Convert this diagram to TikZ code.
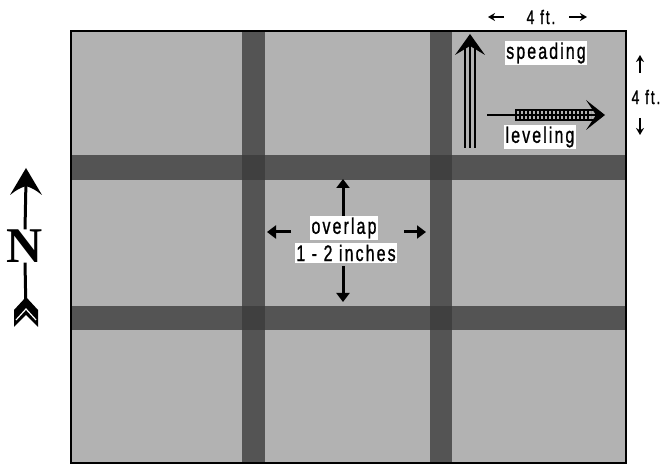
\documentclass[tikz,border=0pt]{standalone}
\usepackage{fontspec}
\setmainfont{Liberation Sans}
\newfontfamily\labfont[LetterSpace=13,FakeBold=1.2]{Liberation Sans}
\newfontfamily\nfont{Liberation Serif}
\usetikzlibrary{arrows.meta}
\definecolor{tile}{gray}{0.70}
\definecolor{seam}{gray}{0.33}
\definecolor{seamx}{gray}{0.25}
\begin{document}
\begin{tikzpicture}[x=1pt,y=-1pt,
  lab/.style={fill=white, inner sep=1.3pt, font=\labfont\fontsize{16}{16}\selectfont},
  dimlab/.style={inner sep=0pt, font=\labfont\fontsize{14}{14}\selectfont},
  sarrow/.style={line width=3pt, -{Triangle[length=9pt,width=13pt]}},
  dimarrow/.style={line width=1.6pt, -{Stealth[length=7pt,width=8pt]}}]
\useasboundingbox (0,0) rectangle (665,465);
% grid of tiles
\fill[tile] (71,31) rectangle (626,463);
\fill[seam] (242,31) rectangle (265,463);
\fill[seam] (430,31) rectangle (452,463);
\fill[seam] (71,155) rectangle (626,180);
\fill[seam] (71,306) rectangle (626,330);
\fill[seamx] (242,155) rectangle (265,180);
\fill[seamx] (430,155) rectangle (452,180);
\fill[seamx] (242,306) rectangle (265,330);
\fill[seamx] (430,306) rectangle (452,330);
\draw[line width=1.5pt] (71,31) rectangle (626,463);
% top-right tile labels and arrows
\node[lab] (spd) at (546,53) {\scalebox{1}[1.4]{speading}};
\node[lab] (lev) at (540,137) {\scalebox{1}[1.4]{leveling}};
\coordinate (uptop) at (470,46);
\coordinate (upbot) at (470,148);
\foreach \dx in {-5,0,5} \draw[line width=1.3pt] ([xshift=\dx pt]upbot) -- ([xshift=\dx pt]uptop);
\fill (470,34) -- (485,55) -- (470,46) -- (455,55) -- cycle;
\coordinate (rl) at (487,115);
\coordinate (rr) at (597,115);
\draw[line width=1.8pt] (rl) -- (rr);
\draw[line width=1.3pt] (515,110) -- (594,110);
\draw[line width=1.3pt] (515,120) -- (594,120);
\draw[line width=10pt, dash pattern=on 1.6pt off 2.4pt] (515,115) -- (591,115);
\fill (605,115) -- (586,100) -- (596,115) -- (586,130) -- cycle;
% centre overlap labels
\node[lab] (ovl) at (344,228) {\scalebox{1}[1.4]{overlap}};
\node[lab] (inch) at (346,253) {\scalebox{1}[1.4]{1 - 2 inches}};
\coordinate (cu0) at (343,216);
\coordinate (cu1) at (343,179);
\coordinate (cd0) at (343,266);
\coordinate (cd1) at (343,302);
\coordinate (cl0) at (291,232);
\coordinate (cl1) at (267,232);
\coordinate (cr0) at (404,232);
\coordinate (cr1) at (426,232);
\draw[sarrow] (cu0) -- (cu1);
\draw[sarrow] (cd0) -- (cd1);
\draw[sarrow] (cl0) -- (cl1);
\draw[sarrow] (cr0) -- (cr1);
% dimension labels
\node[dimlab] (topdim) at (541,17) {\scalebox{1}[1.4]{4 ft.}};
\coordinate (ta0) at (504,17);
\coordinate (ta1) at (488,17);
\coordinate (tb0) at (569,17);
\coordinate (tb1) at (587,17);
\draw[dimarrow] (ta0) -- (ta1);
\draw[dimarrow] (tb0) -- (tb1);
\node[dimlab] (rdim) at (646,97) {\scalebox{1}[1.4]{4 ft.}};
\coordinate (ra0) at (640,73);
\coordinate (ra1) at (640,55);
\coordinate (rb0) at (640,118);
\coordinate (rb1) at (640,135);
\draw[dimarrow] (ra0) -- (ra1);
\draw[dimarrow] (rb0) -- (rb1);
% north arrow
\node[inner sep=0pt, font=\nfont\bfseries\fontsize{50}{50}\selectfont] (north) at (25,246) {N};
\coordinate (ntip) at (26,168);
\coordinate (ntail) at (26,314);
\draw[line width=3pt] (26,180) -- (north.north);
\draw[line width=3pt] (north.south) -- (ntail);
\fill (ntip) -- (42,195) .. controls (34,189) .. (26,186) .. controls (18,189) .. (10,195) -- cycle;
\fill (14,310) -- (26,297) -- (38,310) -- (38,327) -- (26,315) -- (14,327) -- cycle;
\draw[white, line width=1.2pt] (16,320) -- (26,309) -- (36,320);
\end{tikzpicture}
\end{document}
